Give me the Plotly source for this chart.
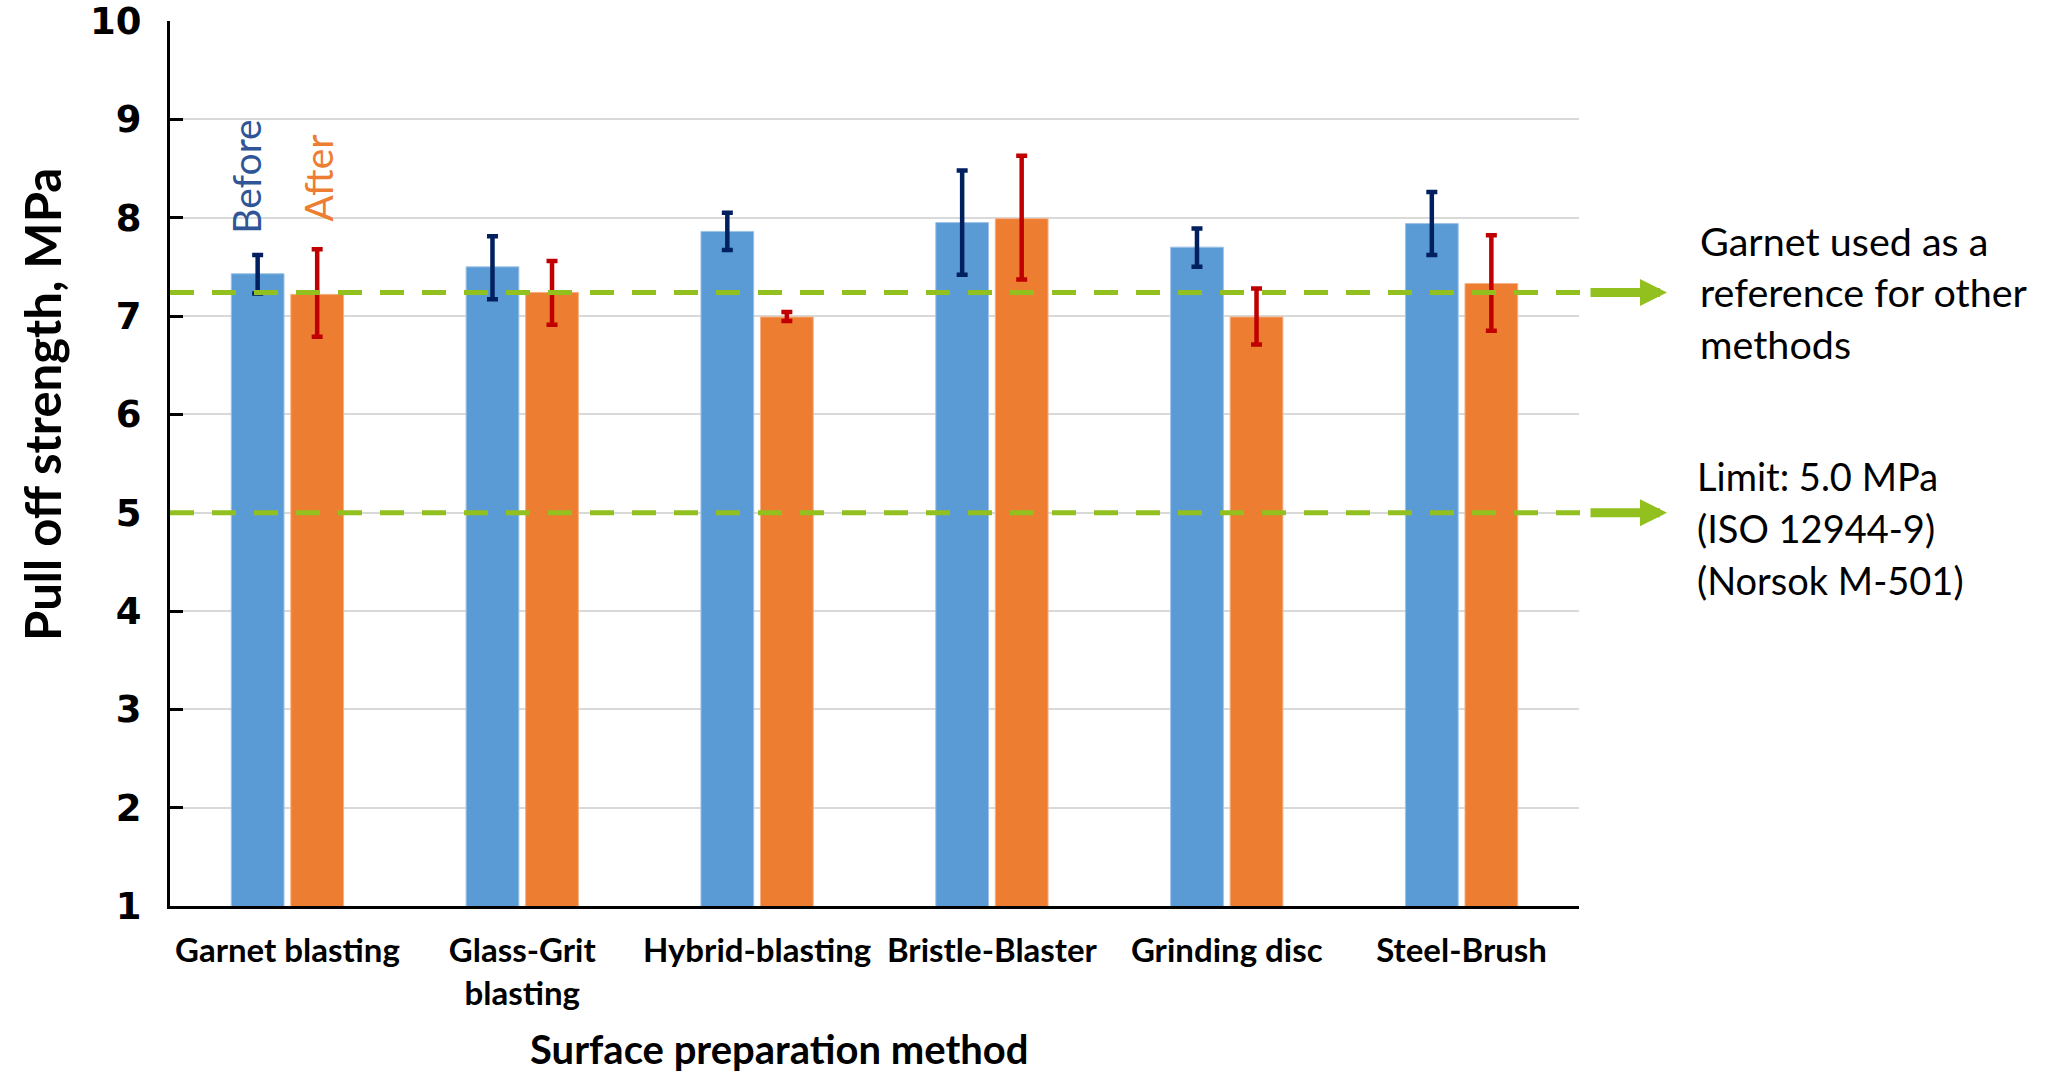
import plotly.graph_objects as go

# Surface preparation methods (category axis)
methods = ["Garnet blasting", "Glass-Grit<br>blasting", "Hybrid-blasting",
           "Bristle-Blaster", "Grinding disc", "Steel-Brush"]

# Pull-off strength (MPa) before and after exposure
before_mean = [7.43, 7.50, 7.86, 7.95, 7.70, 7.94]
before_high = [7.62, 7.81, 8.05, 8.48, 7.89, 8.26]
before_low = [7.23, 7.17, 7.67, 7.42, 7.50, 7.62]

after_mean = [7.22, 7.24, 6.99, 7.99, 6.99, 7.33]
after_high = [7.68, 7.56, 7.04, 8.63, 7.28, 7.82]
after_low = [6.79, 6.91, 6.95, 7.37, 6.71, 6.85]

# Reference levels
garnet_reference = 7.24
iso_limit = 5.0

reference_note = ["Garnet used as a", "reference for other", "methods"]
limit_note = ["Limit: 5.0 MPa", "(ISO 12944-9)", "(Norsok M-501)"]

BLUE = "#5B9BD5"
ORANGE = "#ED7D31"
NAVY = "#002060"
RED = "#C00000"
GREEN = "#92C01F"
TEXT_FONT = "Lato, 'Open Sans', sans-serif"

W, H = 2049, 1072
L, R, T, B = 170, 470, 21, 166
plot_w = W - L - R
plot_h = H - T - B


def px_x(px):
    return (px - L) / plot_w


def px_y(py):
    return (H - B - py) / plot_h


fig = go.Figure()
fig.add_trace(go.Bar(
    x=methods, y=before_mean, name="Before",
    marker=dict(color=BLUE, line=dict(color="#9DC3E6", width=1)),
    error_y=dict(type="data", symmetric=False,
                 array=[h - m for h, m in zip(before_high, before_mean)],
                 arrayminus=[m - lo for m, lo in zip(before_mean, before_low)],
                 color=NAVY, thickness=4.5, width=5.5),
))
fig.add_trace(go.Bar(
    x=methods, y=after_mean, name="After",
    marker=dict(color=ORANGE, line=dict(color="#F4B183", width=1)),
    error_y=dict(type="data", symmetric=False,
                 array=[h - m for h, m in zip(after_high, after_mean)],
                 arrayminus=[m - lo for m, lo in zip(after_mean, after_low)],
                 color=RED, thickness=4.5, width=5.5),
))

# Dashed reference lines extending past the plot area, with arrows
line_end = px_x(1588)
for level in (garnet_reference, iso_limit):
    fig.add_shape(type="line", xref="paper", yref="y", x0=0, x1=line_end,
                  y0=level, y1=level,
                  line=dict(color=GREEN, width=5, dash="24px,18px"))
    fig.add_annotation(xref="paper", yref="y", x=px_x(1667), y=level,
                       ax=-78, ay=0, text="", showarrow=True,
                       arrowhead=2, arrowsize=0.6, arrowwidth=9,
                       arrowcolor=GREEN, standoff=0)

# Side notes
for i, line in enumerate(reference_note):
    fig.add_annotation(xref="paper", yref="paper", x=px_x(1698), y=px_y(240 + 51.5 * i),
                       xanchor="left", yanchor="middle", showarrow=False, text=line,
                       font=dict(family=TEXT_FONT, size=39.5, color="black"))
for i, line in enumerate(limit_note):
    fig.add_annotation(xref="paper", yref="paper", x=px_x(1695), y=px_y(476 + 52 * i),
                       xanchor="left", yanchor="middle", showarrow=False, text=line,
                       font=dict(family=TEXT_FONT, size=38, color="black"))

# Series labels above the first group
fig.add_annotation(x=methods[0], y=7.82, xshift=-41, textangle=-90, text="Before",
                   showarrow=False, yanchor="bottom", xanchor="center",
                   font=dict(family=TEXT_FONT, size=39, color="#2F5597"))
fig.add_annotation(x=methods[0], y=7.94, xshift=31, textangle=-90, text="After",
                   showarrow=False, yanchor="bottom", xanchor="center",
                   font=dict(family=TEXT_FONT, size=39, color=ORANGE))

# Axis titles
fig.add_annotation(xref="paper", yref="paper", x=px_x(779), y=px_y(1049),
                   text="Surface preparation method", showarrow=False,
                   xanchor="center", yanchor="middle",
                   font=dict(family=TEXT_FONT, size=40, color="black", weight="bold"))
fig.add_annotation(xref="paper", yref="paper", x=px_x(42), y=px_y(405),
                   text="Pull off strength, MPa", showarrow=False, textangle=-90,
                   xanchor="center", yanchor="middle",
                   font=dict(family=TEXT_FONT, size=49, color="black", weight="bold"))

fig.update_layout(
    width=W, height=H,
    margin=dict(l=L, r=R, t=T, b=B, pad=0, autoexpand=False),
    paper_bgcolor="white", plot_bgcolor="white",
    barmode="group", bargap=0.493, bargroupgap=0.114,
    showlegend=False,
)
fig.update_yaxes(
    range=[1, 10], tickvals=list(range(1, 11)), automargin=False,
    ticklabeloverflow="allow",
    showgrid=True, gridcolor="#D9D9D9", gridwidth=2, zeroline=False,
    showline=True, linecolor="black", linewidth=3,
    ticks="inside", ticklen=13, tickwidth=3, tickcolor="black",
    ticklabelstandoff=18,
    tickfont=dict(family="DejaVu Sans", size=37, color="black", weight="bold"),
)
fig.update_xaxes(
    showline=True, linecolor="black", linewidth=3, ticks="", automargin=False,
    ticklabeloverflow="allow",
    showgrid=False, ticklabelstandoff=13,
    tickfont=dict(family=TEXT_FONT, size=33, color="black", weight="bold"),
)

fig.write_html("out.html")
